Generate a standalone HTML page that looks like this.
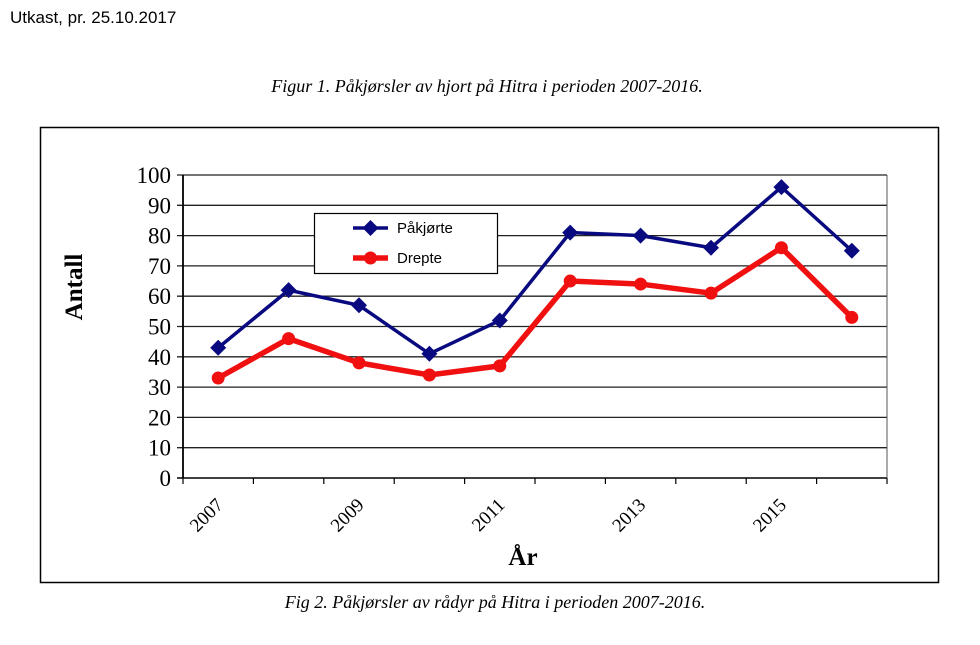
<!DOCTYPE html>
<html><head><meta charset="utf-8"><style>
body{margin:0;background:#fff;width:980px;height:640px;overflow:hidden}
</style></head><body>
<svg width="980" height="640" xmlns="http://www.w3.org/2000/svg">
<text x="10" y="23" font-family="Liberation Sans, sans-serif" font-size="17" fill="#000">Utkast, pr. 25.10.2017</text>
<text x="487" y="92" text-anchor="middle" font-family="Liberation Serif, serif" font-style="italic" font-size="18">Figur 1. Påkjørsler av hjort på Hitra i perioden 2007-2016.</text>
<rect x="40.5" y="127.5" width="898" height="455" fill="none" stroke="#000" stroke-width="1.5"/>
<g id="grid"></g>
<g id="axes"></g>
<g id="series"></g>
<text transform="translate(82,287) rotate(-90)" text-anchor="middle" font-family="Liberation Serif, serif" font-weight="bold" font-size="25">Antall</text>
<text x="523" y="565" text-anchor="middle" font-family="Liberation Serif, serif" font-weight="bold" font-size="25">År</text>
<g>
<rect x="314.5" y="213.5" width="183" height="60" fill="#fff" stroke="#000" stroke-width="1.2"/>
<g>
<line x1="353" y1="228" x2="388" y2="228" stroke="#0a0a80" stroke-width="3.5"/>
<path d="M370.5 220 L378.5 228 L370.5 236 L362.5 228Z" fill="#0a0a80"/>
<text x="397" y="233" font-family="Liberation Sans, sans-serif" font-size="15">Påkjørte</text></g>
<g>
<line x1="353" y1="258" x2="388" y2="258" stroke="#f01010" stroke-width="5.5"/>
<circle cx="370.5" cy="258" r="6.5" fill="#f01010"/>
<text x="397" y="263" font-family="Liberation Sans, sans-serif" font-size="15">Drepte</text></g>
</g>
<text x="495" y="608" text-anchor="middle" font-family="Liberation Serif, serif" font-style="italic" font-size="18">Fig 2. Påkjørsler av rådyr på Hitra i perioden 2007-2016.</text>
</svg>
<script>
const years=[2007,2008,2009,2010,2011,2012,2013,2014,2015,2016];
const yearLabels=["2007","","2009","","2011","","2013","","2015",""];
const pakjorte=[43,62,57,41,52,81,80,76,96,75];
const drepte=[33,46,38,34,37,65,64,61,76,53];
const yTicks=[0,10,20,30,40,50,60,70,80,90,100];
const NS="http://www.w3.org/2000/svg";
const L=183,R=887,T=175,B=478;
const bw=(R-L)/years.length;
const xs=i=>L+bw*(i+0.5);
const ys=v=>B-(v/100)*(B-T);
function mk(t,a,p){const e=document.createElementNS(NS,t);for(const k in a)e.setAttribute(k,a[k]);p.appendChild(e);return e;}
const grid=document.getElementById('grid'),axes=document.getElementById('axes'),ser=document.getElementById('series');
yTicks.forEach(v=>{
 const g=mk('line',{x1:L-6,x2:R,y1:ys(v),y2:ys(v),stroke:v===0?'#000':'#222','stroke-width':v===0?1.5:1.3},grid);
 
 
 const t=mk('text',{x:L-12,y:ys(v)+8,'text-anchor':'end','font-family':'Liberation Serif, serif','font-size':23},axes);
 t.textContent=v;
 
 
});
mk('line',{x1:L,x2:L,y1:T,y2:B,stroke:'#000','stroke-width':1.8},axes);
mk('line',{x1:R,x2:R,y1:T,y2:B,stroke:'#555','stroke-width':1},axes);
for(let i=0;i<=years.length;i++){mk('line',{x1:L+bw*i,x2:L+bw*i,y1:B,y2:B+6,stroke:'#000','stroke-width':1.2},axes);}
years.forEach((y,i)=>{
 if(!yearLabels[i])return;
 const x=xs(i)+6,yy=B+28;
 const t=mk('text',{x:x,y:yy,'text-anchor':'end','font-family':'Liberation Serif, serif','font-size':19,transform:`rotate(-45 ${x} ${yy})`},axes);
 t.textContent=yearLabels[i];
 
 
});
const p1=mk('polyline',{points:pakjorte.map((v,i)=>xs(i)+','+ys(v)).join(' '),fill:'none',stroke:'#0a0a80','stroke-width':3.5},ser);


const p2=mk('polyline',{points:drepte.map((v,i)=>xs(i)+','+ys(v)).join(' '),fill:'none',stroke:'#f01010','stroke-width':5.5},ser);


pakjorte.forEach((v,i)=>{const x=xs(i),y=ys(v);
 const m=mk('path',{d:`M${x} ${y-8}L${x+8} ${y}L${x} ${y+8}L${x-8} ${y}Z`,fill:'#0a0a80'},ser);
 
 });
drepte.forEach((v,i)=>{
 const m=mk('circle',{cx:xs(i),cy:ys(v),r:6.5,fill:'#f01010'},ser);
 
 });
</script>
</body></html>
